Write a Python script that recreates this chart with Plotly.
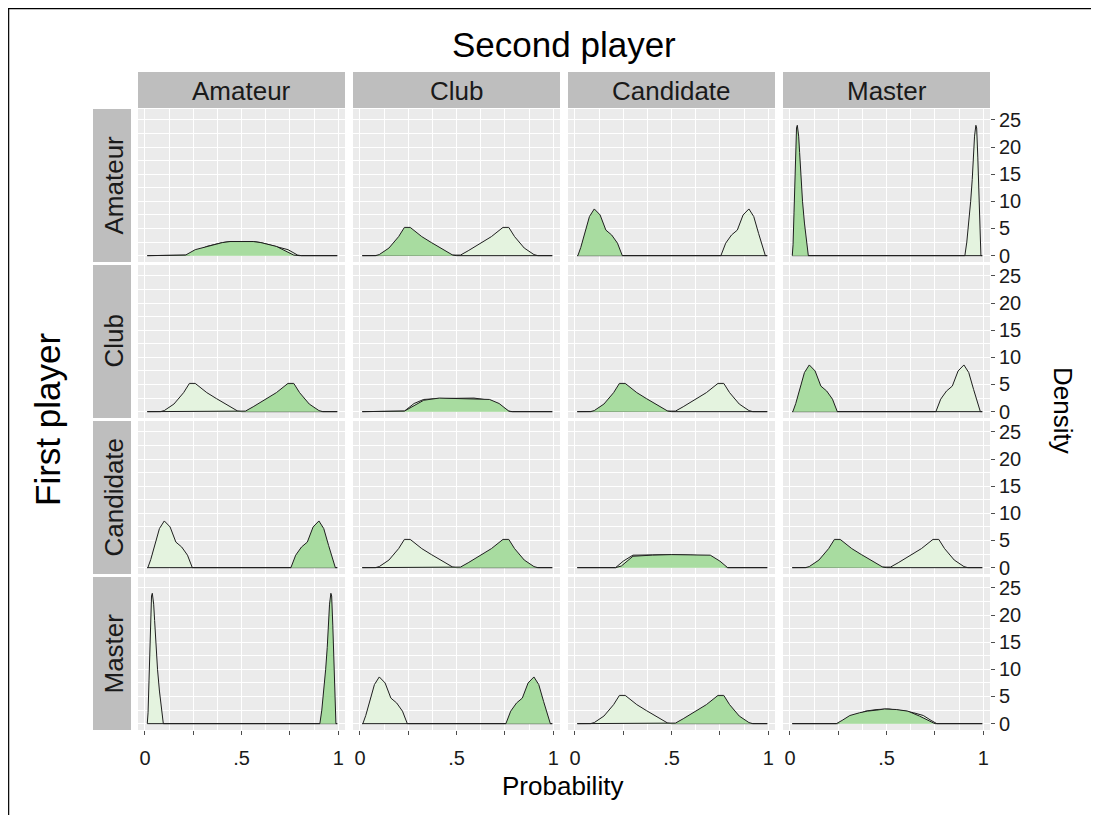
import plotly.graph_objects as go

# ---------------- data ----------------
LEVELS = ["Amateur", "Club", "Candidate", "Master"]

# support ends of every density (baseline drawn across the data range)
X_LO = 0.012
X_HI = 0.995

# one-level gap: peak near 0.24
ADJ_X = [0.08, 0.10, 0.15, 0.20, 0.23, 0.26, 0.32, 0.37, 0.44, 0.48, 0.50]
ADJ_Y = [0.0, 0.2, 1.4, 3.5, 5.2, 5.2, 3.5, 2.4, 0.9, 0.1, 0.0]

# two-level gap: peak near 0.10
TWO_X = [0.015, 0.03, 0.05, 0.075, 0.10, 0.13, 0.16, 0.19, 0.22, 0.245]
TWO_Y = [0.0, 1.5, 4.1, 7.2, 8.6, 7.5, 4.7, 3.8, 2.3, 0.0]

# three-level gap: peak near 0.035
THREE_X = [0.012, 0.016, 0.021, 0.028, 0.034, 0.038, 0.045, 0.05, 0.057, 0.065, 0.075, 0.085, 0.095]
THREE_Y = [0.0, 2.0, 8.0, 18.0, 23.5, 24.0, 22.0, 19.0, 14.0, 10.0, 6.0, 2.5, 0.0]

# equal levels (diagonal panels)
DIAG_AMATEUR_X = [0.19, 0.21, 0.26, 0.34, 0.40, 0.44, 0.50, 0.56, 0.60, 0.68, 0.77, 0.80]
DIAG_AMATEUR_Y = [0.0, 0.1, 1.1, 1.9, 2.4, 2.6, 2.55, 2.6, 2.4, 1.7, 0.1, 0.0]
DIAG_CLUB_X = [0.21, 0.23, 0.29, 0.33, 0.41, 0.50, 0.60, 0.67, 0.72, 0.77, 0.78]
DIAG_CLUB_Y = [0.0, 0.1, 1.3, 2.1, 2.5, 2.45, 2.4, 2.25, 1.5, 0.1, 0.0]
DIAG_CAND_X = [0.21, 0.24, 0.30, 0.40, 0.50, 0.60, 0.70, 0.75, 0.79]
DIAG_CAND_Y = [0.0, 0.3, 2.1, 2.3, 2.4, 2.35, 2.3, 1.2, 0.0]
DIAG_MASTER_X = [0.24, 0.27, 0.31, 0.36, 0.40, 0.45, 0.49, 0.55, 0.61, 0.67, 0.72, 0.75]
DIAG_MASTER_Y = [0.0, 0.6, 1.5, 2.0, 2.3, 2.5, 2.7, 2.6, 2.3, 1.4, 0.6, 0.0]

X_TICKS = [0, 0.25, 0.5, 0.75, 1]
X_TICK_TEXT = ["0", "", ".5", "", "1"]
Y_TICKS = [0, 5, 10, 15, 20, 25]
Y_TICK_TEXT = ["0", "5", "10", "15", "20", "25"]

# ---------------- layout constants ----------------
OFF = 8  # page body margin
W, H = 1099 - OFF, 815 - OFF
COL_PX = [(138, 345), (353, 560), (568, 775), (783, 990)]
ROW_PX = [(109, 262), (265, 418), (421, 574), (577, 730)]
X_RANGE = [-0.036, 1.035]
Y_RANGE = [-1.17, 27.0]
DARK = "rgba(168,220,160,1)"
LIGHT = "rgba(228,243,223,1)"
STRIP = "#BEBEBE"
PANEL = "#EBEBEB"
FONT = "Liberation Sans, Arial, sans-serif"
TXT = "#1A1A1A"

SHAPES = {1: (ADJ_X, ADJ_Y), 2: (TWO_X, TWO_Y), 3: (THREE_X, THREE_Y)}
DIAGS = [(DIAG_AMATEUR_X, DIAG_AMATEUR_Y), (DIAG_CLUB_X, DIAG_CLUB_Y),
         (DIAG_CAND_X, DIAG_CAND_Y), (DIAG_MASTER_X, DIAG_MASTER_Y)]


def low(xs, ys):
    return [X_LO] + list(xs) + [X_HI], [0.0] + list(ys) + [0.0]


def high(xs, ys):
    mx = [1 - v for v in reversed(xs)]
    my = list(reversed(ys))
    return [X_LO] + mx + [X_HI], [0.0] + my + [0.0]


def px2x(p):
    return (p - OFF) / W


def px2y(p):
    return 1 - (p - OFF) / H


fig = go.Figure()
layout = {}
idx = 0
for i in range(4):          # row: first player
    for j in range(4):      # col: second player
        idx += 1
        xa = "x" if idx == 1 else f"x{idx}"
        ya = "y" if idx == 1 else f"y{idx}"
        if i == j:
            dx, dy = low(*DIAGS[i])
            lx, ly = high(*DIAGS[i])
        else:
            sx, sy = SHAPES[abs(j - i)]
            if i < j:   # first player weaker -> low win probability
                dx, dy = low(sx, sy)
                lx, ly = high(sx, sy)
            else:
                dx, dy = high(sx, sy)
                lx, ly = low(sx, sy)
        for xs, ys, col in ((lx, ly, LIGHT), (dx, dy, DARK)):
            fig.add_trace(go.Scatter(x=xs, y=ys, xaxis=xa, yaxis=ya, mode="lines",
                                     fill="tozeroy", fillcolor=col,
                                     line=dict(color="#1E1E1E", width=1),
                                     hoverinfo="skip", showlegend=False))
        bottom = i == 3
        right = j == 3
        xkey = "xaxis" if idx == 1 else f"xaxis{idx}"
        ykey = "yaxis" if idx == 1 else f"yaxis{idx}"
        layout[xkey] = dict(
            domain=[px2x(COL_PX[j][0]), px2x(COL_PX[j][1])], anchor=ya, range=X_RANGE,
            tickmode="array", tickvals=X_TICKS, ticktext=X_TICK_TEXT,
            showticklabels=bottom, ticks="outside" if bottom else "", ticklen=4,
            tickcolor="#4D4D4D", tickwidth=1, ticklabelstandoff=6,
            tickfont=dict(family=FONT, size=20, color=TXT),
            showgrid=True, gridcolor="white", gridwidth=1.4, zeroline=False, showline=False,
            minor=dict(tick0=0, dtick=0.125, showgrid=True, gridcolor="white", gridwidth=0.6, ticks=""),
            fixedrange=True)
        layout[ykey] = dict(
            domain=[px2y(ROW_PX[i][1]), px2y(ROW_PX[i][0])], anchor=xa, range=Y_RANGE,
            side="right", tickmode="array", tickvals=Y_TICKS, ticktext=Y_TICK_TEXT,
            showticklabels=right, ticks="outside" if right else "", ticklen=4,
            tickcolor="#4D4D4D", tickwidth=1,
            tickfont=dict(family=FONT, size=20, color=TXT),
            showgrid=True, gridcolor="white", gridwidth=1.4, zeroline=False, showline=False,
            minor=dict(tick0=0, dtick=2.5, showgrid=True, gridcolor="white", gridwidth=0.6, ticks=""),
            fixedrange=True)

shapes = []
annotations = []
# column strips
for j, name in enumerate(LEVELS):
    x0, x1 = COL_PX[j]
    shapes.append(dict(type="rect", xref="paper", yref="paper", x0=px2x(x0), x1=px2x(x1),
                       y0=px2y(108), y1=px2y(72), fillcolor=STRIP, line=dict(width=0), layer="below"))
    annotations.append(dict(text=name, xref="paper", yref="paper", x=px2x((x0 + x1) / 2), y=px2y(91),
                            showarrow=False, font=dict(family=FONT, size=26, color=TXT),
                            xanchor="center", yanchor="middle"))
# row strips
for i, name in enumerate(LEVELS):
    y0, y1 = ROW_PX[i]
    shapes.append(dict(type="rect", xref="paper", yref="paper", x0=px2x(93), x1=px2x(131),
                       y0=px2y(y1), y1=px2y(y0), fillcolor=STRIP, line=dict(width=0), layer="below"))
    annotations.append(dict(text=name, xref="paper", yref="paper", x=px2x(113), y=px2y((y0 + y1) / 2),
                            showarrow=False, textangle=-90, font=dict(family=FONT, size=26, color=TXT),
                            xanchor="center", yanchor="middle"))
# frame: top and left border of the figure
shapes.append(dict(type="line", xref="paper", yref="paper", x0=0, x1=1.0, y0=0.9993, y1=0.9993,
                   line=dict(color="black", width=1.2)))
shapes.append(dict(type="line", xref="paper", yref="paper", x0=0.0006, x1=0.0006, y0=0, y1=1.0,
                   line=dict(color="black", width=1.2)))

annotations += [
    dict(text="Second player", xref="paper", yref="paper", x=px2x(564), y=px2y(45), showarrow=False,
         font=dict(family=FONT, size=35, color="black"), xanchor="center", yanchor="middle"),
    dict(text="First player", xref="paper", yref="paper", x=px2x(47), y=px2y(420), showarrow=False,
         textangle=-90, font=dict(family=FONT, size=35, color="black"), xanchor="center", yanchor="middle"),
    dict(text="Probability", xref="paper", yref="paper", x=px2x(562), y=px2y(786), showarrow=False,
         font=dict(family=FONT, size=26, color="black"), xanchor="center", yanchor="middle"),
    dict(text="Density", xref="paper", yref="paper", x=px2x(1063), y=px2y(410), showarrow=False,
         textangle=90, font=dict(family=FONT, size=26, color="black"), xanchor="center", yanchor="middle"),
]

fig.update_layout(width=W, height=H, margin=dict(l=0, r=0, t=0, b=0, pad=0, autoexpand=False),
                  paper_bgcolor="white", plot_bgcolor=PANEL, showlegend=False,
                  shapes=shapes, annotations=annotations, **layout)
fig.write_html("out.html", config={"displayModeBar": False})
